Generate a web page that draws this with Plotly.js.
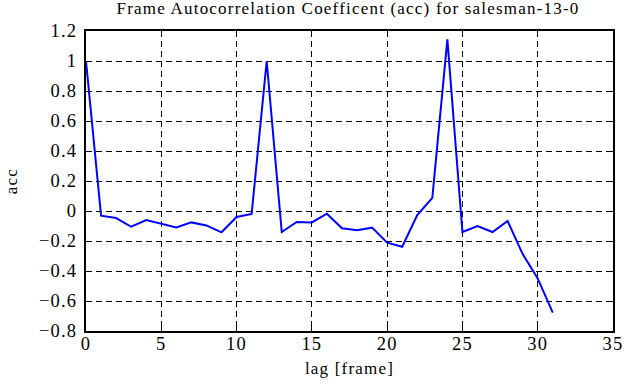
<!DOCTYPE html>
<html><head><meta charset="utf-8">
<script src="https://cdn.plot.ly/plotly-3.0.1.min.js"></script>
<style>body{margin:0;padding:0;background:#fff}#chart{width:641px;height:387px}
#chart svg text{letter-spacing:1.2px !important}</style>
</head><body><div id="chart"></div>
<script>
const lags = [0,1,2,3,4,5,6,7,8,9,10,11,12,13,14,15,16,17,18,19,20,21,22,23,24,25,26,27,28,29,30,31];
const acc = [1.0,-0.031,-0.047,-0.105,-0.06,-0.082,-0.109,-0.076,-0.096,-0.142,-0.04,-0.02,1.0,-0.14,-0.073,-0.076,-0.018,-0.115,-0.129,-0.111,-0.211,-0.238,-0.027,0.087,1.144,-0.14,-0.1,-0.14,-0.067,-0.287,-0.449,-0.678];
const titleText = "Frame Autocorrelation Coefficent (acc) for salesman-13-0";
const xLabel = "lag [frame]";
const yLabel = "acc";

const font = {family: "Liberation Serif", size: 17, color: "#000"};
const tickFont = {family: "Liberation Serif", size: 18.5, color: "#000"};
const axisCommon = {
  showline: true, mirror: "ticks", linecolor: "#000", linewidth: 2,
  ticks: "inside", ticklen: 5, tickwidth: 1, tickcolor: "#000",
  showgrid: true, gridcolor: "#000", gridwidth: 1, griddash: "6px,4px",
  zeroline: false, tickfont: tickFont
};
const data = [{x: lags, y: acc, type: "scatter", mode: "lines",
  line: {color: "#0000ff", width: 2}}];
const layout = {
  width: 641, height: 387,
  margin: {l: 86, r: 28, t: 31, b: 56},
  paper_bgcolor: "#fff", plot_bgcolor: "#fff",
  font: font, showlegend: false,
  title: {text: titleText, font: font, x: 0.543, xanchor: "center", y: 0.98, yanchor: "middle"},
  xaxis: Object.assign({}, axisCommon, {range: [0, 35], tickmode: "linear", tick0: 0, dtick: 5,
    ticklabelstandoff: -5, title: {text: xLabel, font: font, standoff: 9}}),
  yaxis: Object.assign({}, axisCommon, {range: [-0.8, 1.2], tickmode: "linear", tick0: -0.8, dtick: 0.2,
    ticklabelstandoff: 3, title: {text: yLabel, font: font, standoff: 22}})
};
Plotly.newPlot("chart", data, layout, {displayModeBar: false, staticPlot: true});
</script></body></html>
